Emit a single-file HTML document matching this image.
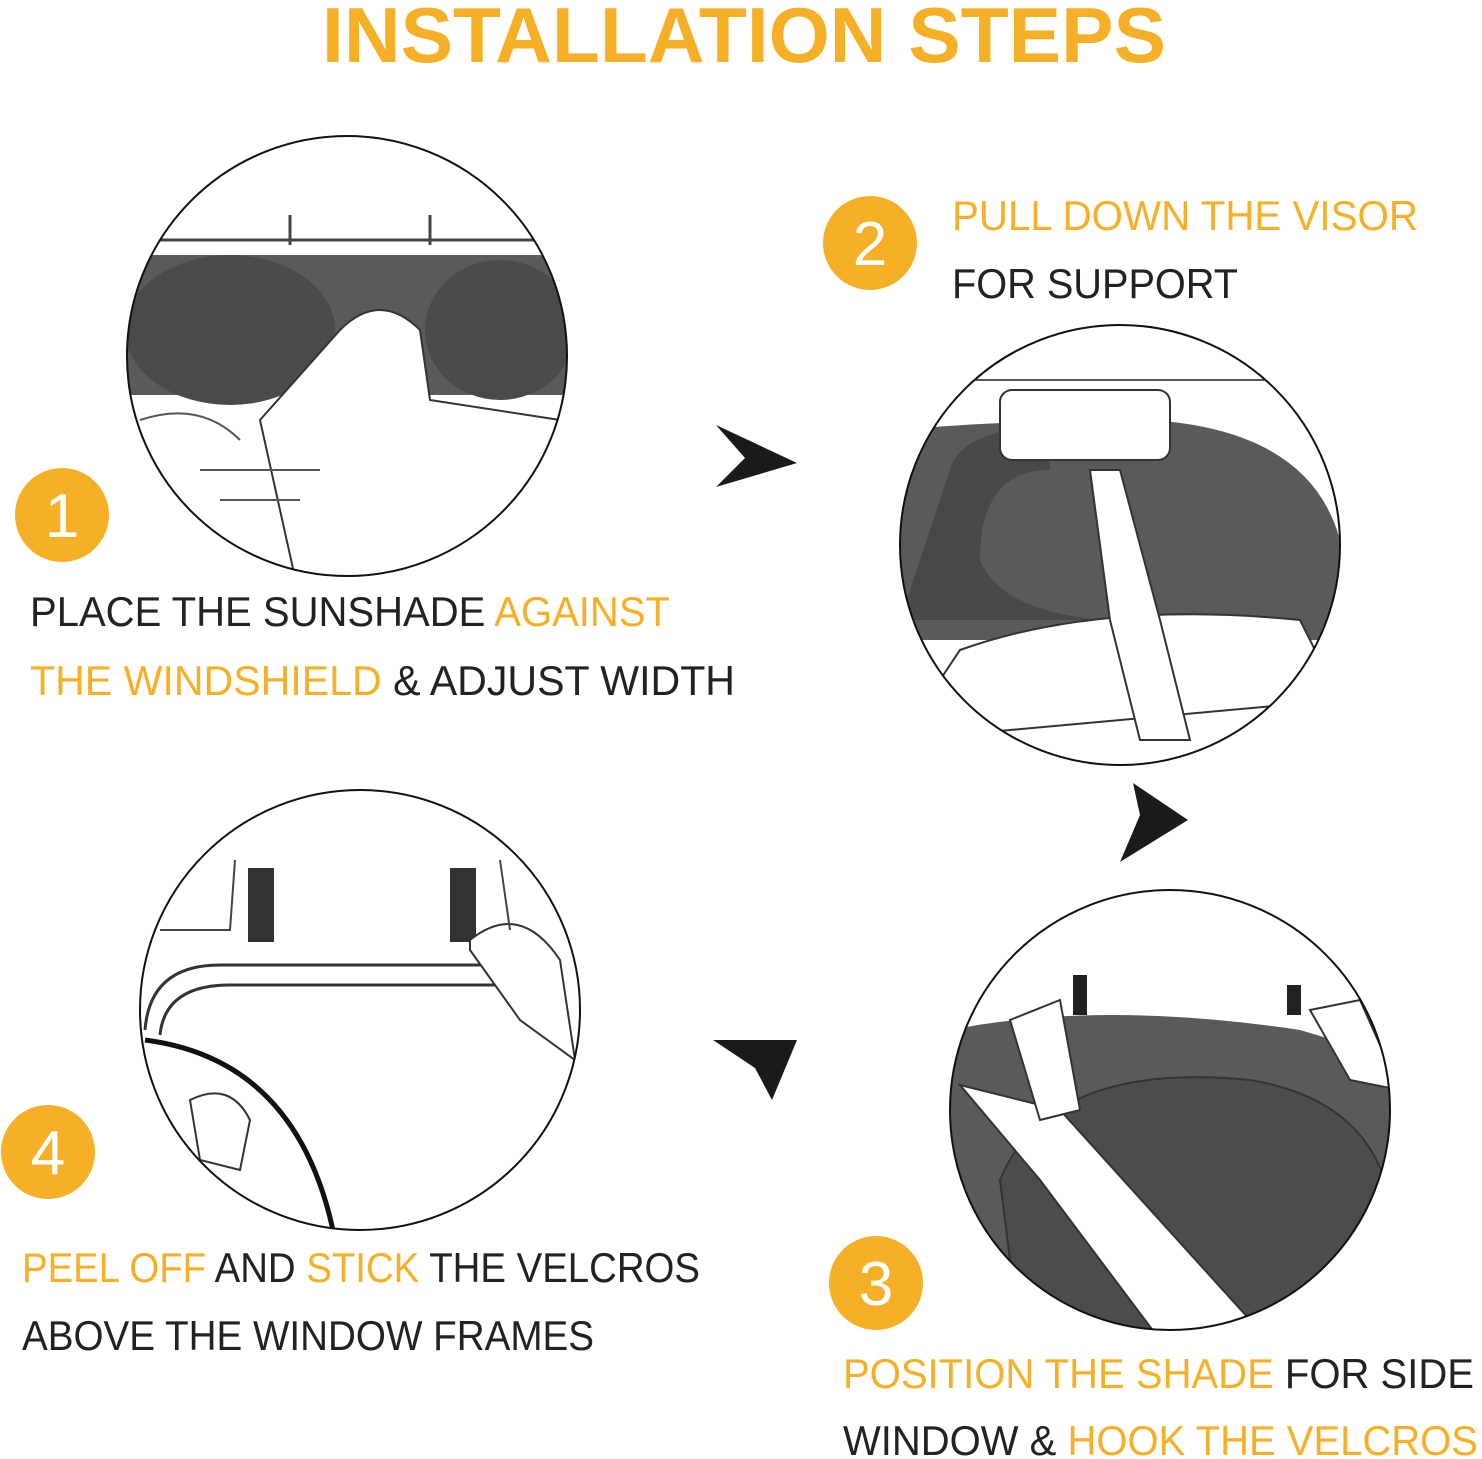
<!DOCTYPE html>
<html><head><meta charset="utf-8"><style>
html,body{margin:0;padding:0;background:#fff;}
svg{display:block;}
text{font-family:"Liberation Sans",sans-serif;}
</style></head><body>
<svg width="1482" height="1459" viewBox="0 0 1482 1459" xmlns="http://www.w3.org/2000/svg">
<defs>
<clipPath id="c1"><circle cx="347" cy="356" r="220"/></clipPath>
<clipPath id="c2"><circle cx="1120" cy="545" r="220"/></clipPath>
<clipPath id="c3"><circle cx="1170" cy="1110" r="220"/></clipPath>
<clipPath id="c4"><circle cx="360" cy="1010" r="220"/></clipPath>
</defs>
<text x="322" y="62" font-size="78" font-weight="bold" fill="#F6B027" textLength="844" lengthAdjust="spacingAndGlyphs">INSTALLATION STEPS</text>

<!-- circle 1 -->
<g clip-path="url(#c1)">
<rect x="120" y="130" width="460" height="460" fill="#fff"/>
<rect x="120" y="255" width="460" height="140" fill="#5a5a5a"/>
<ellipse cx="230" cy="330" rx="105" ry="75" fill="#4a4a4a"/>
<ellipse cx="500" cy="330" rx="75" ry="70" fill="#4a4a4a"/>
<path d="M340 330 Q380 290 420 330 L430 400 L560 420 L560 600 L300 600 L260 420 Z" fill="#fff" stroke="#333" stroke-width="2"/>
<path d="M150 240 L550 240 M290 215 L290 245 M430 215 L430 245" stroke="#444" stroke-width="3" fill="none"/>
<path d="M140 420 Q200 400 240 440 M200 470 L320 470 M220 500 L300 500" stroke="#555" stroke-width="2" fill="none"/>
</g>
<circle cx="347" cy="356" r="220" fill="none" stroke="#111" stroke-width="2"/>

<!-- circle 2 -->
<g clip-path="url(#c2)">
<rect x="890" y="320" width="460" height="460" fill="#fff"/>
<path d="M900 430 Q1000 420 1150 420 Q1310 430 1340 540 L1340 640 L900 640 Z" fill="#5a5a5a"/>
<path d="M950 470 Q960 430 1050 425 L1050 470 Q980 470 980 560 Q1000 610 1100 620 L900 620 Z" fill="#484848"/>
<path d="M960 650 Q1100 600 1300 620 L1340 700 L900 740 Z" fill="#fff" stroke="#333" stroke-width="2"/>
<rect x="1000" y="390" width="170" height="70" rx="12" fill="#fff" stroke="#333" stroke-width="2"/>
<path d="M1090 470 L1120 470 L1160 620 L1190 740 L1140 740 L1110 620 Z" fill="#fff" stroke="#333" stroke-width="2"/>
<path d="M920 380 L1320 380" stroke="#555" stroke-width="2"/>
</g>
<circle cx="1120" cy="545" r="220" fill="none" stroke="#111" stroke-width="2"/>

<!-- circle 3 -->
<g clip-path="url(#c3)">
<rect x="940" y="880" width="460" height="460" fill="#fff"/>
<path d="M950 1030 Q1100 1000 1300 1030 L1400 1060 L1400 1340 L950 1340 Z" fill="#5a5a5a"/>
<path d="M1000 1180 Q1050 1060 1250 1080 Q1370 1100 1390 1200 L1390 1340 L1020 1340 Z" fill="#4c4c4c" stroke="#333" stroke-width="2"/>
<rect x="1073" y="975" width="14" height="40" fill="#222"/>
<rect x="1287" y="985" width="14" height="30" fill="#222"/>
<path d="M960 1085 L1060 1110 L1250 1320 L1160 1340 L1040 1180 Z" fill="#fff" stroke="#333" stroke-width="2"/>
<path d="M1010 1020 L1060 1000 L1080 1110 L1040 1120 Z" fill="#fff" stroke="#333" stroke-width="2"/>
<path d="M1310 1010 L1360 1000 L1400 1090 L1350 1080 Z" fill="#fff" stroke="#333" stroke-width="2"/>
</g>
<circle cx="1170" cy="1110" r="220" fill="none" stroke="#111" stroke-width="2"/>

<!-- circle 4 -->
<g clip-path="url(#c4)">
<rect x="130" y="780" width="460" height="460" fill="#fff"/>
<rect x="248" y="868" width="26" height="74" fill="#333"/>
<rect x="450" y="868" width="26" height="74" fill="#333"/>
<path d="M145 1030 Q150 965 220 965 L510 965 M160 1035 Q165 985 230 985 L510 985" stroke="#333" stroke-width="3" fill="none"/>
<path d="M145 1040 Q300 1060 335 1240" stroke="#111" stroke-width="5" fill="none"/>
<path d="M470 940 Q520 900 560 960 L575 1060 L520 1020 L470 950 Z" fill="#fff" stroke="#333" stroke-width="2"/>
<path d="M190 1100 Q230 1080 250 1120 L240 1170 L200 1160 Z" fill="#fff" stroke="#333" stroke-width="2"/>
<path d="M160 930 L230 930 L235 860 M500 860 L510 930" stroke="#444" stroke-width="2" fill="none"/>
</g>
<circle cx="360" cy="1010" r="220" fill="none" stroke="#111" stroke-width="2"/>

<!-- arrows -->
<path d="M716 425 L797 463 L716 487 L745 458 Z" fill="#1a1a1a"/>
<path d="M1133 783 L1188 820 L1120 862 L1140 815 Z" fill="#1a1a1a"/>
<path d="M713 1040 L797 1040 L772 1100 L755 1068 Z" fill="#1a1a1a"/>

<!-- badges -->
<g fill="#F6B027"><circle cx="62" cy="515" r="47"/><circle cx="870" cy="243" r="47"/><circle cx="876" cy="1283" r="47"/><circle cx="48" cy="1152" r="47"/></g>
<g fill="#fff" font-size="62" text-anchor="middle">
<text x="62" y="537">1</text><text x="870" y="265">2</text><text x="876" y="1305">3</text><text x="48" y="1174">4</text></g>

<g font-size="42" fill="#222">
<text x="30" y="626" textLength="640" lengthAdjust="spacingAndGlyphs">PLACE THE SUNSHADE <tspan fill="#F6B027">AGAINST</tspan></text>
<text x="30" y="695" textLength="705" lengthAdjust="spacingAndGlyphs"><tspan fill="#F6B027">THE WINDSHIELD</tspan> &amp; ADJUST WIDTH</text>
<text x="952" y="230" textLength="466" lengthAdjust="spacingAndGlyphs" fill="#F6B027">PULL DOWN THE VISOR</text>
<text x="952" y="298" textLength="286" lengthAdjust="spacingAndGlyphs">FOR SUPPORT</text>
<text x="22" y="1282" textLength="678" lengthAdjust="spacingAndGlyphs"><tspan fill="#F6B027">PEEL OFF</tspan> AND <tspan fill="#F6B027">STICK</tspan> THE VELCROS</text>
<text x="22" y="1350" textLength="572" lengthAdjust="spacingAndGlyphs">ABOVE THE WINDOW FRAMES</text>
<text x="843" y="1388" textLength="631" lengthAdjust="spacingAndGlyphs"><tspan fill="#F6B027">POSITION THE SHADE</tspan> FOR SIDE</text>
<text x="843" y="1455" textLength="635" lengthAdjust="spacingAndGlyphs">WINDOW &amp; <tspan fill="#F6B027">HOOK THE VELCROS</tspan></text>
</g>
</svg>
</body></html>
